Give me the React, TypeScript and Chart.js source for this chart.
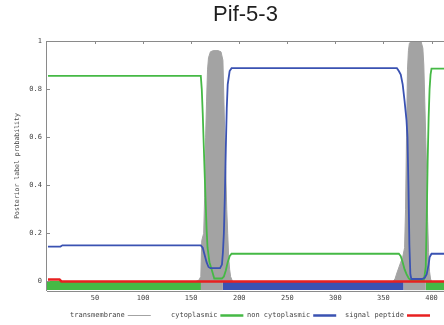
import React, { useEffect, useRef } from 'react';
import { Chart, registerables } from 'chart.js';

Chart.register(...registerables);

const TITLE = 'Pif-5-3';
const Y_LABEL = 'Posterior label probability';
const X_MIN = 0;
const X_MAX = 413;
const X_TICKS = [50, 100, 150, 200, 250, 300, 350, 400];
const Y_TICKS = [0, 0.2, 0.4, 0.6, 0.8, 1];
const Y_TICK_LABELS = ['0', '0.2', '0.4', '0.6', '0.8', '1'];

const SERIES_LABELS = ['transmembrane', 'cytoplasmic', 'non cytoplasmic', 'signal peptide'];

const TM_POS = [1, 155, 158, 160, 161, 163, 164, 165, 166, 167, 168, 170, 173, 178, 181, 183, 185, 187, 188, 189, 190, 191, 193,
  360, 362, 364, 368, 370, 372, 373, 374, 375, 376, 377, 379, 389, 391, 392, 393, 394, 395, 396, 397, 398, 399, 400, 413];
const TM_PROB = [0, 0, 0.005, 0.02, 0.17, 0.2, 0.35, 0.6, 0.75, 0.88, 0.93, 0.955, 0.96, 0.96, 0.955, 0.92, 0.6, 0.3, 0.2, 0.1, 0.05, 0.02, 0,
  0, 0.01, 0.035, 0.08, 0.1, 0.14, 0.3, 0.6, 0.88, 0.96, 0.99, 1.0, 1.0, 0.97, 0.9, 0.75, 0.6, 0.45, 0.25, 0.12, 0.04, 0.01, 0, 0];

const CYTO_POS = [1, 160, 161, 162, 164, 166, 167, 169, 172, 174, 182, 184, 186, 188, 190, 192,
  366, 368, 370, 372, 374, 376, 378, 392, 393, 394, 395, 396, 397, 398, 399, 400, 413];
const CYTO_PROB = [0.855, 0.855, 0.8, 0.7, 0.45, 0.22, 0.14, 0.08, 0.04, 0.012, 0.012, 0.02, 0.045, 0.08, 0.105, 0.115,
  0.115, 0.105, 0.08, 0.05, 0.03, 0.015, 0.005, 0.005, 0.03, 0.06, 0.25, 0.5, 0.68, 0.8, 0.86, 0.885, 0.885];

const NONCYTO_POS = [1, 14, 16, 160, 162, 164, 166, 168, 170, 180, 182, 183, 184, 185, 186, 187, 188, 190, 192,
  364, 366, 368, 370, 372, 374, 375, 376, 377, 378, 379, 390, 393, 395, 397, 398, 400, 413];
const NONCYTO_PROB = [0.145, 0.145, 0.15, 0.15, 0.14, 0.11, 0.08, 0.06, 0.055, 0.055, 0.07, 0.12, 0.2, 0.35, 0.55, 0.72, 0.82, 0.875, 0.887,
  0.887, 0.875, 0.86, 0.82, 0.75, 0.67, 0.6, 0.4, 0.15, 0.03, 0.01, 0.01, 0.015, 0.03, 0.07, 0.1, 0.115, 0.115];

const SIGNAL_POS = [1, 13, 15, 413];
const SIGNAL_PROB = [0.008, 0.008, 0, 0];

const TOPO_START = [1, 160, 183, 371, 394];
const TOPO_END = [160, 183, 371, 394, 413];
const TOPO_CLASS = ['cytoplasmic', 'transmembrane', 'non cytoplasmic', 'transmembrane', 'cytoplasmic'];

const COLORS: Record<string, string> = {
  'transmembrane': '#a3a3a3',
  'cytoplasmic': '#45b945',
  'non cytoplasmic': '#3a52b2',
  'signal peptide': '#e82020',
};

const MONO = "'DejaVu Sans Mono', monospace";
const BAR_Y = -0.0175;

const pts = (xs: number[], ys: number[]) => xs.map((x, i) => ({ x, y: ys[i] }));

const decorPlugin = {
  id: 'decor',
  afterDatasetsDraw(chart: any) {
    const { ctx, chartArea } = chart;
    const { left, right, top, bottom } = chartArea;
    const xs = chart.scales.x;
    const ys = chart.scales.y;
    ctx.save();
    ctx.strokeStyle = '#8a8a8a';
    ctx.lineWidth = 1;
    ctx.beginPath();
    ctx.moveTo(left, top + 0.5);
    ctx.lineTo(right, top + 0.5);
    ctx.moveTo(left - 0.5, top);
    ctx.lineTo(left - 0.5, bottom);
    ctx.moveTo(left, bottom + 0.5);
    ctx.lineTo(right, bottom + 0.5);
    X_TICKS.forEach((v) => {
      const px = Math.round(xs.getPixelForValue(v)) + 0.5;
      ctx.moveTo(px, top);
      ctx.lineTo(px, top + 3);
    });
    Y_TICKS.forEach((v) => {
      const py = Math.round(ys.getPixelForValue(v)) + 0.5;
      ctx.moveTo(left, py);
      ctx.lineTo(left + 3, py);
    });
    ctx.stroke();
    ctx.restore();
  },
  afterDraw(chart: any) {
    const { ctx } = chart;
    const starts = [70, 171, 247, 345];
    const y = 315;
    ctx.save();
    ctx.font = `7px ${MONO}`;
    ctx.textBaseline = 'middle';
    ctx.textAlign = 'left';
    SERIES_LABELS.forEach((lab, i) => {
      ctx.fillStyle = '#444';
      ctx.fillText(lab, starts[i], y);
      const w = ctx.measureText(lab).width;
      const x0 = starts[i] + w + 3;
      ctx.strokeStyle = COLORS[lab];
      ctx.lineWidth = lab === 'transmembrane' ? 1 : 2.5;
      ctx.beginPath();
      ctx.moveTo(x0, y + 0.5);
      ctx.lineTo(x0 + 23, y + 0.5);
      ctx.stroke();
    });
    ctx.restore();
  },
};

export default function App() {
  const ref = useRef<HTMLCanvasElement | null>(null);

  useEffect(() => {
    if (!ref.current) return;
    const topoSets = TOPO_START.map((s, i) => ({
      label: '',
      data: [{ x: s, y: BAR_Y }, { x: TOPO_END[i], y: BAR_Y }],
      borderColor: COLORS[TOPO_CLASS[i]],
      borderWidth: 9,
      borderCapStyle: i === 0 ? 'round' : 'butt',
      pointRadius: 0,
      fill: false,
      order: TOPO_CLASS[i] === 'transmembrane' ? 1 : 2,
    }));
    const chart = new Chart(ref.current, {
      type: 'line',
      data: {
        datasets: [
          {
            label: 'signal peptide',
            data: pts(SIGNAL_POS, SIGNAL_PROB),
            borderColor: COLORS['signal peptide'],
            borderWidth: 2.5,
            pointRadius: 0,
            fill: false,
            order: 0,
          },
          ...topoSets,
          {
            label: 'non cytoplasmic',
            data: pts(NONCYTO_POS, NONCYTO_PROB),
            borderColor: COLORS['non cytoplasmic'],
            borderWidth: 1.8,
            pointRadius: 0,
            fill: false,
            order: 3,
          },
          {
            label: 'cytoplasmic',
            data: pts(CYTO_POS, CYTO_PROB),
            borderColor: COLORS['cytoplasmic'],
            borderWidth: 1.8,
            pointRadius: 0,
            fill: false,
            order: 4,
          },
          {
            label: 'transmembrane',
            data: pts(TM_POS, TM_PROB),
            borderColor: COLORS['transmembrane'],
            backgroundColor: COLORS['transmembrane'],
            borderWidth: 1,
            pointRadius: 0,
            fill: 'origin',
            order: 5,
          },
        ] as any,
      },
      options: {
        animation: false,
        responsive: false,
        devicePixelRatio: 1,
        layout: { padding: { left: 0, right: 0, top: 0, bottom: 20 } },
        elements: { line: { tension: 0 } },
        plugins: {
          legend: { display: false },
          tooltip: { enabled: false },
          title: {
            display: true,
            text: TITLE,
            fullSize: false,
            color: '#1e1e1e',
            font: { family: "'Liberation Sans', Arial, sans-serif", size: 22, weight: 'normal' },
            padding: { top: 1.8, bottom: 12.8 },
          },
        },
        scales: {
          x: {
            type: 'linear',
            min: X_MIN,
            max: X_MAX,
            grid: { display: false, drawTicks: false },
            border: { display: false },
            afterFit: (s: any) => { s.height = 14; },
            afterBuildTicks: (s: any) => { s.ticks = X_TICKS.map((v) => ({ value: v })); },
            ticks: {
              autoSkip: false,
              maxRotation: 0,
              padding: 3,
              color: '#444',
              font: { family: MONO, size: 7 },
            },
          },
          y: {
            type: 'linear',
            min: -0.04,
            max: 1,
            grid: { display: false, drawTicks: false },
            border: { display: false },
            afterFit: (s: any) => { s.width = 47; },
            afterBuildTicks: (s: any) => { s.ticks = Y_TICKS.map((v) => ({ value: v })); },
            ticks: {
              autoSkip: false,
              padding: 5,
              color: '#444',
              font: { family: MONO, size: 7 },
              callback: (v: any) => {
                const i = Y_TICKS.indexOf(Number(v));
                return i >= 0 ? Y_TICK_LABELS[i] : '';
              },
            },
            title: {
              display: true,
              text: Y_LABEL,
              color: '#444',
              font: { family: MONO, size: 6.5 },
              padding: { top: 13, bottom: 0 },
            },
          },
        },
      } as any,
      plugins: [decorPlugin],
    });
    return () => chart.destroy();
  }, []);

  return (
    <div style={{ position: 'absolute', left: 0, top: 0, width: 444, height: 325, overflow: 'hidden', background: '#fff' }}>
      <canvas ref={ref} width={444} height={325} style={{ display: 'block' }} />
    </div>
  );
}
